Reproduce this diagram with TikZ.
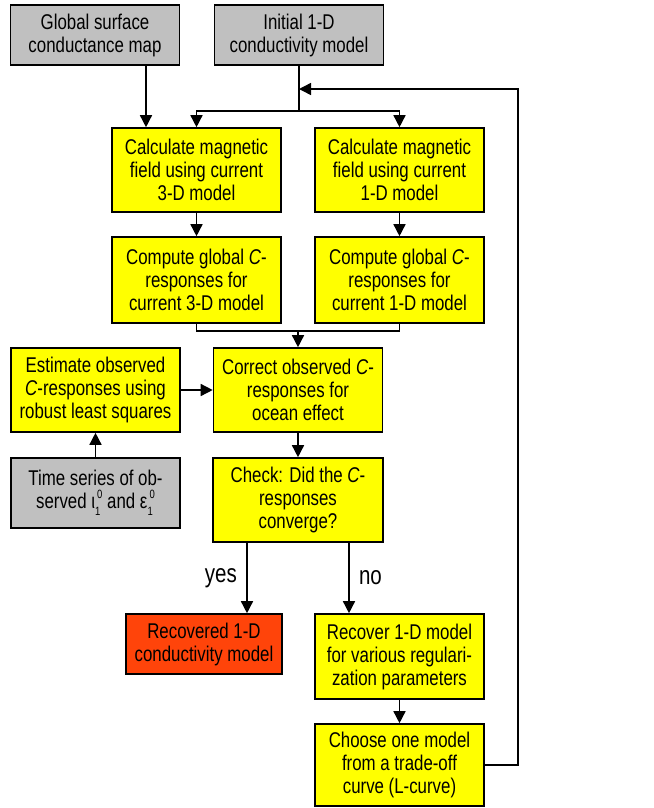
\documentclass[tikz,border=0pt]{standalone}
\usepackage{fontspec}
\setmainfont[FakeStretch=0.79]{Liberation Sans}
\usetikzlibrary{arrows.meta}

\definecolor{boxgray}{RGB}{192,192,192}
\definecolor{boxyellow}{RGB}{255,255,0}
\definecolor{boxred}{RGB}{255,68,10}

\newcommand{\lowhigh}[2]{\raisebox{-0.6ex}{\fontsize{9}{9}\selectfont #1}\kern-0.15em\raisebox{0.95ex}{\fontsize{9}{9}\selectfont #2}}

\begin{document}
\begin{tikzpicture}[x=0.75pt, y=-0.75pt, line width=1.1pt, >={Triangle[length=9pt,width=9pt]}]

\tikzstyle{every node} = [font=\fontsize{16}{17.25}\selectfont]
\tikzstyle{box} = [rectangle, draw, line width=1.2pt, fill=boxyellow, align=center, inner sep=0pt, minimum width=126.75pt, minimum height=63pt]
\tikzstyle{input} = [box, fill=boxgray, minimum height=45pt]
\tikzstyle{result} = [box, fill=boxred, minimum width=117pt, minimum height=45pt]
\tikzstyle{answer} = [font=\fontsize{19.5}{20}\selectfont, inner sep=7pt]

\useasboundingbox (0,0) rectangle (654,808);

\node[input] (g) at (95,35) {Global surface\\conductance map};
\node[input] (i) at (299,35) {Initial 1-D\\conductivity model};

\node[box] (m3) at (196.5,170) {Calculate magnetic\\field using current\\3-D model};
\node[box] (m1) at (399.5,170) {Calculate magnetic\\field using current\\1-D model};

\node[box, minimum height=64.5pt] (c3) at (196.5,280) {Compute global \textit{C}-\\responses for\\current 3-D model};
\node[box, minimum height=64.5pt] (c1) at (399.5,280) {Compute global \textit{C}-\\responses for\\current 1-D model};

\node[box] (e) at (95.5,390) {Estimate observed\\\textit{C}-responses using\\robust least squares};
\node[box] (o) at (298,390) {Correct observed \textit{C}-\\responses for\\ocean effect};
\node[input, minimum height=52.5pt] (t) at (95.5,493) {Time series of ob-\\served ι\lowhigh{1}{0} and ε\lowhigh{1}{0}};
\node[box, minimum width=127.5pt] (k) at (298,500) {Check: Did the \textit{C}-\\responses\\converge?};

\node[result] (r) at (204,644) {Recovered 1-D\\conductivity model};
\node[box, minimum height=63.75pt] (v) at (399.5,656.5) {Recover 1-D model\\for various regulari-\\zation parameters};
\node[box, minimum height=61.5pt] (h) at (399.5,765) {Choose one model\\from a trade-off\\curve (L-curve)};

\coordinate (ga) at (146,0);
\coordinate (s) at (298,111);
\coordinate (j) at (298,331);
\coordinate (fb) at (518,89);
\coordinate (ya) at (247,0);
\coordinate (na) at (349,0);

\draw[->] (g.south -| ga) -- (m3.north -| ga);
\draw (i.south) -- (i.south |- s);
\draw[->] (i.south |- s) -| (m3.north);
\draw[->] (i.south |- s) -| (m1.north);

\draw[->] (m3) -- (c3);
\draw[->] (m1) -- (c1);
\draw (c3.south) |- (j) -| (c1.south);
\draw[->] (j) -- (o);

\draw[->] (e) -- (o);
\draw[->] (t) -- (e);
\draw[->] (o) -- (k);

\draw[->] (k.south -| ya) -- node[left, answer] {yes} (r.north -| ya);
\draw[->] (k.south -| na) -- node[right, answer] {no} (v.north -| na);
\draw[->] (v) -- (h);

\draw[->] (h.east) -- (h.east -| fb) -- (fb) -- (fb -| i.south);

\end{tikzpicture}
\end{document}
